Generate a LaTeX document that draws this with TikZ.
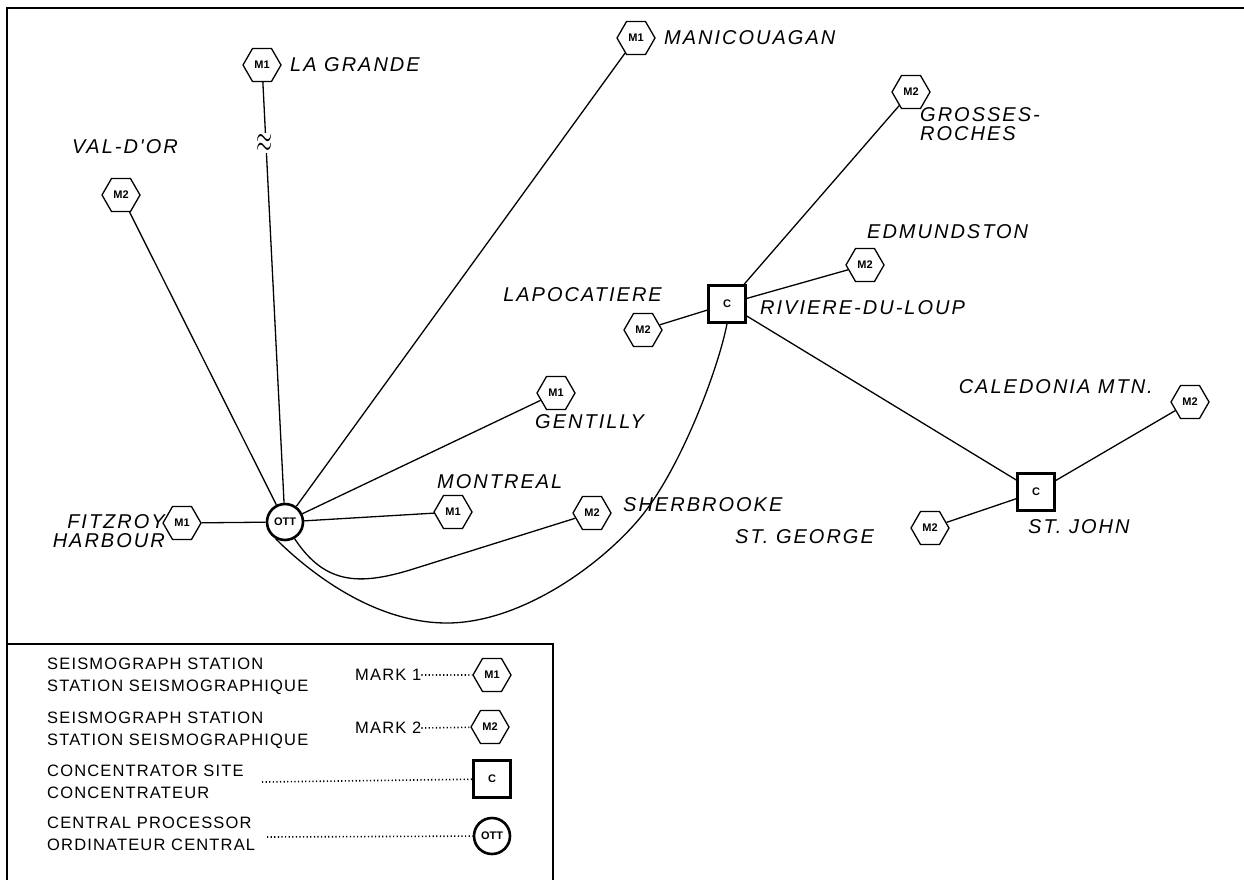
\documentclass[tikz,border=0pt]{standalone}
\usepackage{fontspec}
\setmainfont{Liberation Sans}
\newfontfamily\mapfont[LetterSpace=10]{Liberation Sans}
\newfontfamily\legfont[LetterSpace=7]{Liberation Sans}
\usetikzlibrary{shapes.geometric}
\begin{document}
\begin{tikzpicture}[x=1pt,y=-1pt,
 hexa/.style={regular polygon, regular polygon sides=6, draw, line width=1.3pt, minimum size=38pt, inner sep=0pt, font=\bfseries\fontsize{11}{11}\selectfont},
 conc/.style={rectangle, draw, line width=2.6pt, minimum size=37pt, inner sep=0pt, font=\bfseries\fontsize{11}{11}\selectfont},
 proc/.style={circle, draw, line width=2.6pt, minimum size=36pt, inner sep=0pt, font=\bfseries\fontsize{11}{11}\selectfont},
 lbl/.style={font=\mapfont\itshape\fontsize{20}{19}\selectfont, inner sep=0pt},
 leg/.style={font=\legfont\fontsize{16.5}{22}\selectfont, inner sep=0pt, align=left, anchor=west},
 link/.style={line width=1.3pt},
 dots/.style={line width=1.6pt, dash pattern=on 1.2pt off 2.4pt},
 frame/.style={line width=1.8pt}
]
\useasboundingbox (0,0) rectangle (1244,880);
% frame and legend box
\draw[frame] (7,880) -- (7,8) -- (1244,8);
\draw[frame] (7,644) -- (553,644) -- (553,880);

% stations
\node[proc] (ott) at (285,522) {OTT};
\node[hexa] (fitz) at (182,523) {M1};
\node[hexa] (val) at (121,195) {M2};
\node[hexa] (lag) at (262,65) {M1};
\node[hexa] (mani) at (636,38) {M1};
\node[hexa] (gent) at (556,393) {M1};
\node[hexa] (mont) at (453,512) {M1};
\node[hexa] (sher) at (592,513) {M2};
\node[conc] (rdl) at (727,304) {C};
\node[hexa] (lapo) at (643,330) {M2};
\node[hexa] (gros) at (911,92) {M2};
\node[hexa] (edm) at (865,265) {M2};
\node[conc] (stj) at (1036,492) {C};
\node[hexa] (cal) at (1190,402) {M2};
\node[hexa] (stg) at (930,528) {M2};

% labels
\node[lbl, anchor=west] (lLag) at (290,65) {LA GRANDE};
\node[lbl, anchor=west] (lMani) at (664,38) {MANICOUAGAN};
\node[lbl, anchor=west] (lVal) at (72,147) {VAL-D'OR};
\node[lbl, anchor=west, align=left] (lGros) at (920,124) {GROSSES-\\ROCHES};
\node[lbl, anchor=west] (lEdm) at (867,232) {EDMUNDSTON};
\node[lbl, anchor=east] (lLapo) at (662,295) {LAPOCATIERE};
\node[lbl, anchor=west] (lRdl) at (760,308) {RIVIERE-DU-LOUP};
\node[lbl, anchor=east] (lCal) at (1153,387) {CALEDONIA MTN.};
\node[lbl, anchor=west] (lStj) at (1028,527) {ST. JOHN};
\node[lbl, anchor=west] (lStg) at (735,537) {ST. GEORGE};
\node[lbl, anchor=west] (lSher) at (623,505) {SHERBROOKE};
\node[lbl, anchor=west] (lMont) at (437,482) {MONTREAL};
\node[lbl, anchor=west] (lGent) at (535,422) {GENTILLY};
\node[lbl, anchor=east, align=right] (lFitz) at (165,531) {FITZROY\\HARBOUR};

% links from OTT
\draw[link] (ott) -- (fitz);
\draw[link] (ott) -- (val);
\draw[link] (ott) -- (lag);
\draw[link] (ott) -- (mani);
\draw[link] (ott) -- (gent);
\draw[link] (ott) -- (mont);
\draw[link] (ott.-60) .. controls (325,585) and (360,585) .. (410,570) -- (sher);
\draw[link] (rdl.south) .. controls (718,370) and (680,470) .. (640,518)
  .. controls (600,566) and (520,623) .. (447,623)
  .. controls (370,623) and (304,567) .. (ott.-118);
% links from concentrators
\draw[link] (rdl) -- (gros);
\draw[link] (rdl) -- (edm);
\draw[link] (rdl) -- (lapo);
\draw[link] (rdl) -- (stj);
\draw[link] (stj) -- (cal);
\draw[link] (stj) -- (stg);
% break symbol
\node[fill=white, inner sep=0.5pt, font=\fontsize{22}{22}\selectfont] (apx) at (265,143) {\scalebox{1.0}[1.8]{$\approx$}};

% legend
\node[leg] (t1) at (47,676) {SEISMOGRAPH STATION\\STATION SEISMOGRAPHIQUE};
\node[leg] (m1) at (355,675) {MARK 1};
\node[hexa] (k1) at (492,675) {M1};
\draw[dots] (m1.east) -- (k1);
\node[leg] (t2) at (47,730) {SEISMOGRAPH STATION\\STATION SEISMOGRAPHIQUE};
\node[leg] (m2) at (355,728) {MARK 2};
\node[hexa] (k2) at (490,727) {M2};
\draw[dots] (m2.east) -- (k2);
\node[leg] (t3) at (47,782) {CONCENTRATOR SITE\\CONCENTRATEUR};
\node[conc] (k3) at (492,779) {C};
\coordinate (d3) at (262,782);
\draw[dots] (d3) -- (k3);
\node[leg] (t4) at (47,834) {CENTRAL PROCESSOR\\ORDINATEUR CENTRAL};
\node[proc] (k4) at (492,836) {OTT};
\coordinate (d4) at (267,837);
\draw[dots] (d4) -- (k4);
\end{tikzpicture}
\end{document}
